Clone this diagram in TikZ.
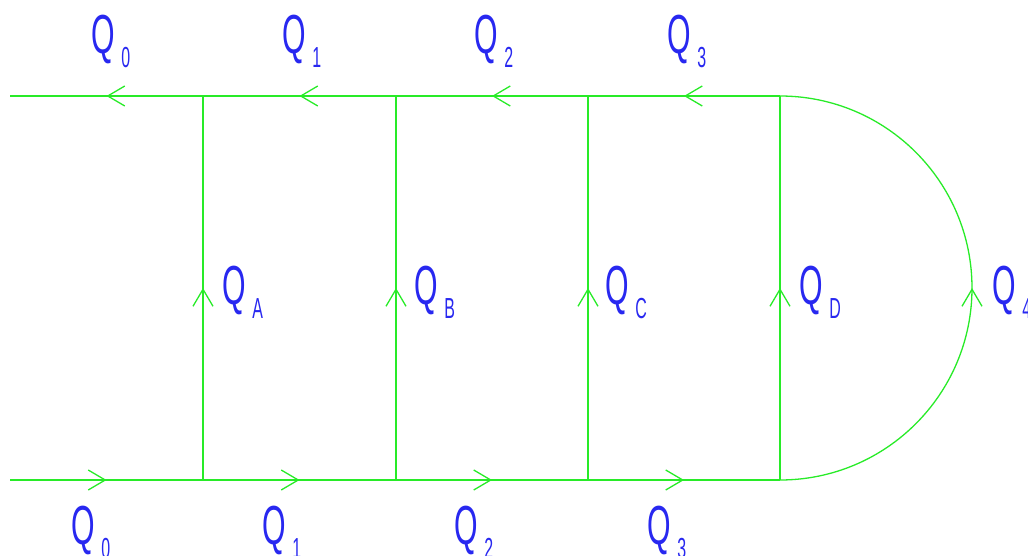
\documentclass[tikz,border=0pt]{standalone}
\usepackage{fontspec}
\setmainfont{Liberation Sans}
\usetikzlibrary{decorations.markings,arrows.meta}
\definecolor{pipe}{RGB}{40,235,40}
\definecolor{lbl}{RGB}{40,40,240}
\newcommand{\qlab}[1]{\scalebox{0.55}[1]{\fontsize{55}{55}\selectfont Q\hspace{12pt}\raisebox{-14pt}{\fontsize{29}{29}\selectfont #1}}}
\tikzset{
  flow/.style={draw=pipe, line width=1.3pt, postaction={decorate},
    decoration={markings, mark=at position 0.5 with {\arrow{Straight Barb[length=17pt,width=20pt,line width=1.3pt]}}}},
  qlabel/.style={anchor=base west, inner sep=0pt, text=lbl}
}
\begin{document}
\begin{tikzpicture}[x=1pt,y=-1pt]
\useasboundingbox (0,0) rectangle (1028,556);
% junctions
\coordinate (TL) at (10,96);
\coordinate (TA) at (203,96);
\coordinate (TB) at (396,96);
\coordinate (TC) at (588,96);
\coordinate (TD) at (780,96);
\coordinate (BL) at (10,480);
\coordinate (BA) at (203,480);
\coordinate (BB) at (396,480);
\coordinate (BC) at (588,480);
\coordinate (BD) at (780,480);
% bottom line (flow right)
\path[flow] (BL) -- (BA);
\path[flow] (BA) -- (BB);
\path[flow] (BB) -- (BC);
\path[flow] (BC) -- (BD);
% top line (flow left)
\path[flow] (TA) -- (TL);
\path[flow] (TB) -- (TA);
\path[flow] (TC) -- (TB);
\path[flow] (TD) -- (TC);
% verticals (flow up)
\path[flow] (BA) -- (TA);
\path[flow] (BB) -- (TB);
\path[flow] (BC) -- (TC);
\path[flow] (BD) -- (TD);
% semicircle
\path[flow] (BD) arc[start angle=90, end angle=-90, radius=192];
% labels top
\node[qlabel] (qt0) at (91,54) {\qlab{0}};
\node[qlabel] (qt1) at (282,54) {\qlab{1}};
\node[qlabel] (qt2) at (474,54) {\qlab{2}};
\node[qlabel] (qt3) at (667,54) {\qlab{3}};
% labels bottom
\node[qlabel] (qb0) at (71,544) {\qlab{0}};
\node[qlabel] (qb1) at (262,544) {\qlab{1}};
\node[qlabel] (qb2) at (454,544) {\qlab{2}};
\node[qlabel] (qb3) at (647,544) {\qlab{3}};
% labels middle
\node[qlabel] (qa) at (222,304) {\qlab{A}};
\node[qlabel] (qbb) at (414,304) {\qlab{B}};
\node[qlabel] (qc) at (605,304) {\qlab{C}};
\node[qlabel] (qd) at (799,304) {\qlab{D}};
\node[qlabel] (qe) at (992,304) {\qlab{4}};
\end{tikzpicture}
\end{document}
